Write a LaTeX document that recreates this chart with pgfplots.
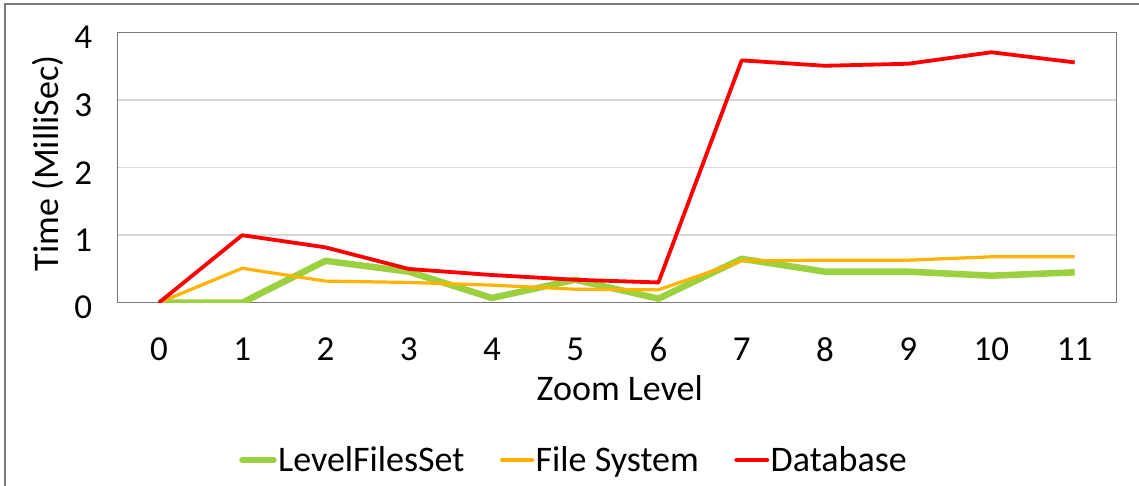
\documentclass[border=0pt]{standalone}
\usepackage{fontspec}
\setmainfont{Carlito}
\usepackage{pgfplots}
\pgfplotsset{compat=1.18}
\definecolor{lfsgreen}{HTML}{9BD03F}
\definecolor{fsorange}{HTML}{FFB300}
\definecolor{dbred}{HTML}{FF0000}
\definecolor{gridgray}{HTML}{D9D9D9}
\definecolor{framegray}{HTML}{7A7A7A}
\begin{document}
\begin{tikzpicture}
\useasboundingbox (0pt,0pt) rectangle (1139pt,486pt);
% outer chart frame
\draw[framegray, line width=1.3pt] (5pt,-5pt) -- (5pt,482pt) -- (1145pt,482pt);
\begin{axis}[
  at={(117.3pt,183.3pt)}, anchor=south west,
  scale only axis, width=999pt, height=270pt,
  xmin=-0.5, xmax=11.5, ymin=0, ymax=4,
  xtick={0,...,11}, ytick={0,1,2,3,4},
  major tick length=0pt,
  ymajorgrids, grid style={gridgray, line width=1.4pt},
  axis line style={framegray, line width=1.3pt},
  tick label style={font=\fontsize{35}{40}\selectfont, inner sep=0pt},
  /pgf/number format/assume math mode=true,
  yticklabel style={anchor=east, yshift=-5pt},
  yticklabel shift=25pt,
  xticklabel style={anchor=north},
  xticklabel shift=35pt,
  label style={font=\fontsize{36}{40}\selectfont},
  xlabel={Zoom Level},
  xlabel style={at={(axis description cs:0.503,-0.316)}, anchor=center},
  ylabel={Time (MilliSec)},
  ylabel style={at={(axis description cs:-0.0694,0.5156)}, anchor=center},
  legend columns=3,
  legend cell align=left,
  legend style={at={(axis description cs:0.4569,-0.5826)}, anchor=center,
    draw=none, fill=none, inner sep=0pt,
    font=\fontsize{36}{40}\selectfont,
    nodes={inner sep=1.5pt},
    /tikz/every even column/.append style={column sep=34pt}},
  legend image code/.code={\draw[#1, line cap=round] (0pt,0pt) -- (31pt,0pt);},
]
\addplot[lfsgreen, line width=6.5pt, line join=round] coordinates {
  (0,0) (1,0) (2,0.62) (3,0.46) (4,0.07) (5,0.34) (6,0.06)
  (7,0.65) (8,0.46) (9,0.46) (10,0.40) (11,0.45)};
\addlegendentry{LevelFilesSet}
\addplot[fsorange, line width=3.2pt, line join=round] coordinates {
  (0,0) (1,0.51) (2,0.32) (3,0.30) (4,0.26) (5,0.20) (6,0.19)
  (7,0.62) (8,0.63) (9,0.63) (10,0.68) (11,0.68)};
\addlegendentry{File System}
\addplot[dbred, line width=3.8pt, line join=round] coordinates {
  (0,0) (1,1.00) (2,0.82) (3,0.50) (4,0.41) (5,0.34) (6,0.30)
  (7,3.59) (8,3.51) (9,3.54) (10,3.71) (11,3.56)};
\addlegendentry{Database}
\end{axis}
\end{tikzpicture}
\end{document}
